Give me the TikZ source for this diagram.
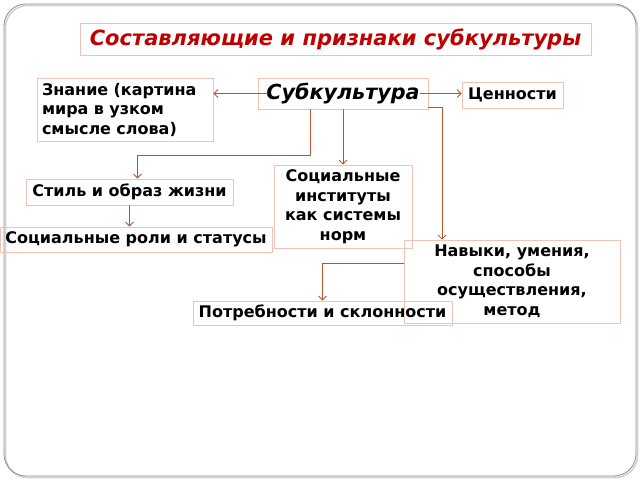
\documentclass[tikz,border=0pt]{standalone}
\usepackage{fontspec}
\setmainfont{DejaVu Sans}
\usetikzlibrary{positioning,arrows.meta}
\definecolor{boxline}{RGB}{240,195,180}
\definecolor{arrline}{RGB}{185,85,45}
\definecolor{titlered}{RGB}{192,0,0}

\begin{document}
\begin{tikzpicture}[x=1pt,y=-1pt,
  cell/.style={draw=boxline,line width=0.8pt,inner sep=2pt,font=\fontsize{16}{19.5}\selectfont\bfseries,align=center},
  link/.style={draw=arrline,line width=0.8pt,-{Straight Barb[length=4pt,width=8pt]}}]
\useasboundingbox (0,0) rectangle (640,480);
%% the frame
\draw [gray!35,line width=1.6pt,rounded corners=22pt] (5.5,5.5) rectangle (637.5,477.5);
\draw [gray!90,line width=0.8pt,rounded corners=22pt] (4,4) rectangle (636,476);
%the nodes
\node [cell,minimum width=511pt,minimum height=32pt,text=titlered,font=\fontsize{21}{24}\selectfont\bfseries\itshape] (title) at (335.5,39) {Составляющие и признаки субкультуры};
\node [cell,minimum width=170pt,minimum height=31pt,font=\fontsize{20.7}{24}\selectfont\bfseries\itshape] (sub) at (343,93.5) {Субкультура};
\node [cell,minimum width=176pt,minimum height=63pt,text width=166pt,align=left] (know) at (125,109.5) {Знание (картина\\мира в узком\\смысле слова)};
\node [cell,minimum width=101pt,minimum height=26pt] (values) at (512.5,95) {Ценности};
\node [cell,minimum width=207pt,minimum height=26pt] (style) at (129.5,192) {Стиль и образ жизни};
\node [cell,minimum width=138pt,minimum height=83pt] (inst) at (343,206.5) {Социальные\\институты\\как системы\\норм};
\node [cell,minimum width=272pt,minimum height=25pt] (roles) at (136,239.5) {Социальные роли и статусы};
\node [cell,minimum width=216pt,minimum height=83pt] (skills) at (512,281.5) {Навыки, умения,\\способы\\осуществления,\\метод};
\node [cell,minimum width=259pt,minimum height=24pt] (needs) at (322.5,313) {Потребности и склонности};
%drawings of lines
\draw [link] ([xshift=10pt]sub.west) -- (sub.west -| know.east);
\draw [link] ([xshift=-8pt]sub.east) -- (sub.east -| values.west);
\draw [link] ([xshift=-33pt]sub.south) -- ++(0,46) -| ([xshift=8pt]style.north);
\draw [link] (sub.south) -- (inst.north);
\draw [link] ([yshift=2pt]sub.south east) -| ([xshift=-70pt]skills.north);
\draw [link] (style.south) -- (style.south |- roles.north);
\draw [link] ([yshift=18.5pt]skills.west) -| (needs.north);
\end{tikzpicture}
\end{document}
